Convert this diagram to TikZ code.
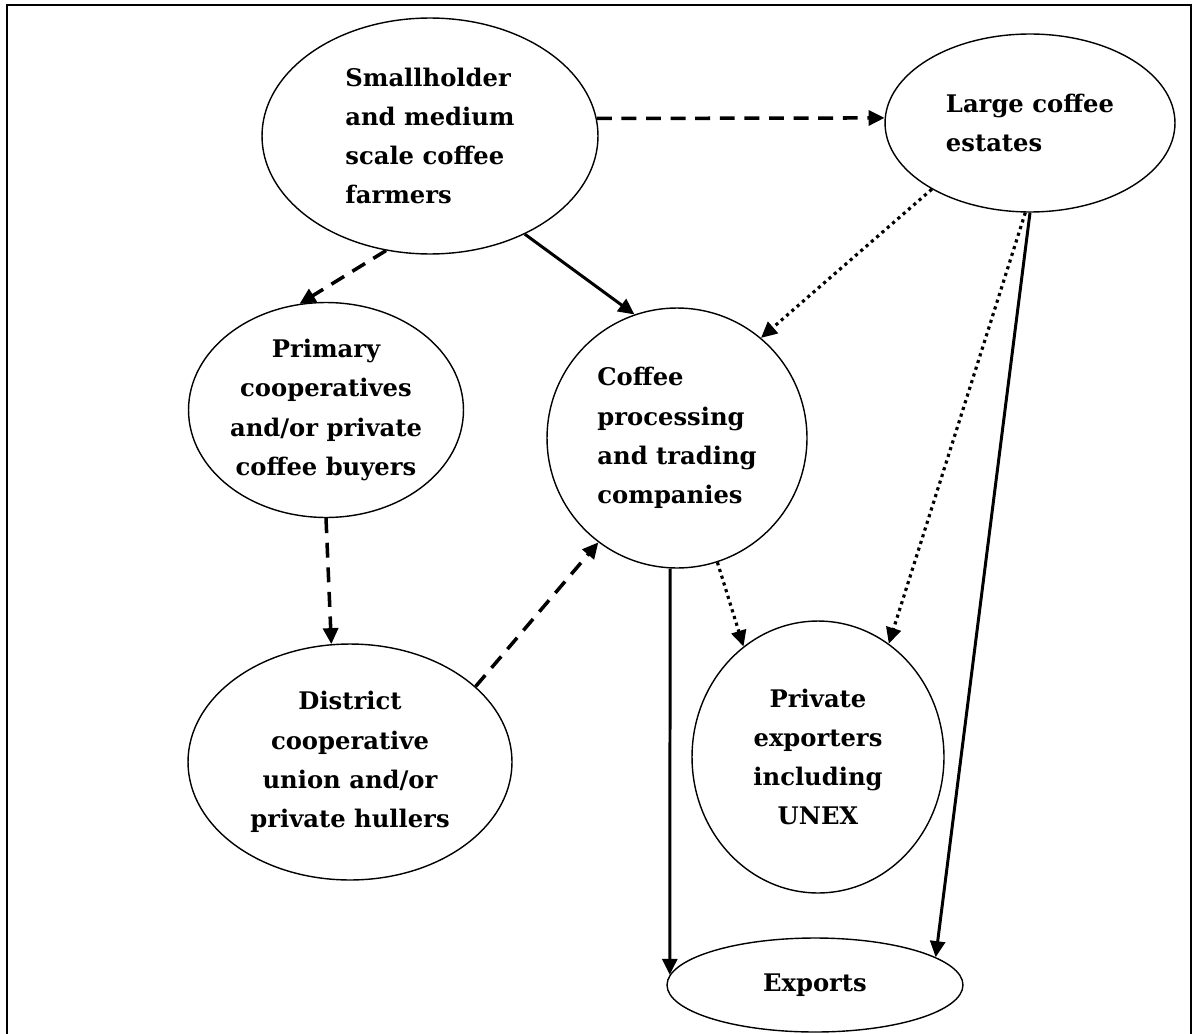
\documentclass[tikz,border=0pt]{standalone}
\usepackage{fontspec}
\setmainfont{DejaVu Serif}
\usetikzlibrary{arrows.meta, shapes.geometric}
\begin{document}
\begin{tikzpicture}[x=0.02cm, y=-0.02cm,
    every node/.style={font=\fontsize{13.8}{22.3}\selectfont\bfseries},
    actor/.style={draw, ellipse, line width=0.8pt, inner sep=-12pt},
    flow/.style={line width=1.7pt, -{Triangle[length=3.2mm, width=3mm]}},
    dashflow/.style={flow, line width=2pt, dash pattern=on 8.5pt off 5.5pt},
    dotflow/.style={flow, line width=1.8pt, dash pattern=on 1.8pt off 2.2pt}]
    \useasboundingbox (0,0) rectangle (1193,1034);
    % frame
    \draw[line width=1.4pt] (7,1034) -- (7,5) -- (1191,5) -- (1191,1034);
    % actors
    \node[actor, minimum width=6.72cm, minimum height=4.72cm, align=left] (farmers) at (430,136) {Smallholder\\and medium\\scale coffee\\farmers};
    \node[actor, minimum width=5.8cm, minimum height=3.56cm, align=left] (estates) at (1030,123) {Large coffee\\estates};
    \node[actor, minimum width=5.5cm, minimum height=4.3cm, align=center] (primary) at (326,410) {Primary\\cooperatives\\and/or private\\coffee buyers};
    \node[actor, minimum width=5.2cm, minimum height=5.2cm, align=left] (companies) at (677,438) {Coffee\\processing\\and trading\\companies};
    \node[actor, minimum width=5.04cm, minimum height=5.44cm, align=center] (exporters) at (818,757) {Private\\exporters\\including\\UNEX};
    \node[actor, minimum width=6.48cm, minimum height=4.72cm, align=center] (district) at (350,762) {District\\cooperative\\union and/or\\private hullers};
    \node[actor, minimum width=5.92cm, minimum height=1.88cm] (exports) at (815,985) {Exports};
    % flows
    \draw[dashflow] (farmers.6) -- (estates.178);
    \draw[dashflow] (farmers.-111) -- (primary.104);
    \draw[flow] (farmers.-46) -- (companies.109);
    \draw[dotflow] (estates.214) -- (companies.50);
    \draw[dotflow] (estates.267) -- (exporters.58);
    \draw[flow] (estates.270) -- (exports.13);
    \draw[dashflow] (primary.270) -- (district.99);
    \draw[dashflow] (district.31) -- (companies.233);
    \draw[flow] (companies.267) -- (exports.176);
    \draw[dotflow] (companies.-72) -- (exporters.124);
\end{tikzpicture}
\end{document}
